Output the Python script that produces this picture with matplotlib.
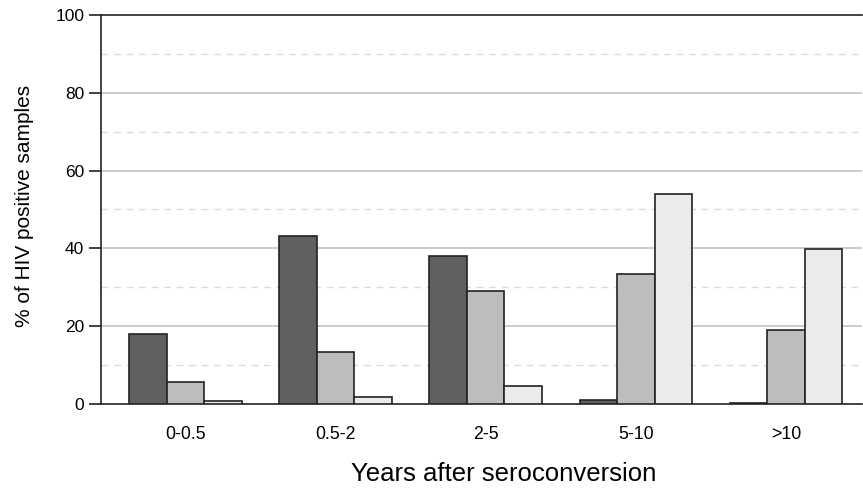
import matplotlib
matplotlib.use("Agg")
import matplotlib.pyplot as plt
import numpy as np
from matplotlib import font_manager

plt.rcParams['font.family'] = ['Liberation Sans', 'DejaVu Sans']

categories = ["0-0.5", "0.5-2", "2-5", "5-10", ">10"]
series_dark = [18.0, 43.2, 38.0, 1.0, 0.3]
series_mid = [5.7, 13.4, 29.0, 33.4, 19.0]
series_light = [0.8, 1.8, 4.6, 54.0, 39.8]
yticks = [0, 20, 40, 60, 80, 100]
minor_grid = [10, 30, 50, 70, 90]

names = {f.name for f in font_manager.fontManager.ttflist}
ylab_family = ['Liberation Sans Narrow'] if 'Liberation Sans Narrow' in names else ['Liberation Sans']
ylab_size = 18 if 'Liberation Sans Narrow' in names else 15

fig = plt.figure(figsize=(8.63, 4.90), dpi=100)
ax = fig.add_axes([101/863, 1-404/490, 761/863, (404-15)/490])

x = np.arange(len(categories))
w = 0.25
cols = ["#606060", "#bdbdbd", "#ebebeb"]
for i, (vals, c) in enumerate(zip([series_dark, series_mid, series_light], cols)):
    ax.bar(x + (i-1)*w, vals, width=w, color=c, edgecolor="#222222", linewidth=1.2, zorder=3)

for v in yticks[1:-1]:
    ax.axhline(v, color="#c4c4c4", linewidth=1.2, zorder=1)
for v in minor_grid:
    ax.axhline(v, color="#dcdcdc", linewidth=1.0, linestyle=(0, (5, 4)), zorder=1)

ax.set_xlim(-0.563, 4.507)
ax.set_ylim(0, 100)
ax.set_yticks(yticks)
ax.set_xticks(x)
ax.set_xticklabels(categories, fontsize=12.8)
ax.tick_params(axis='x', length=0, pad=16)
ax.tick_params(axis='y', length=9, width=1.2, labelsize=12.5, pad=3, color="#222222")
for s in ["left", "bottom", "top"]:
    ax.spines[s].set_linewidth(1.2)
    ax.spines[s].set_color("#222222")
ax.spines["right"].set_visible(False)

ax.set_ylabel("% of HIV positive samples", fontsize=ylab_size, family=ylab_family)
ax.yaxis.set_label_coords(-0.088, 0.51)
ax.set_xlabel("Years after seroconversion", fontsize=18.5)
ax.xaxis.set_label_coords((504-101)/761, -0.148)

fig.savefig("out.png", dpi=100)
